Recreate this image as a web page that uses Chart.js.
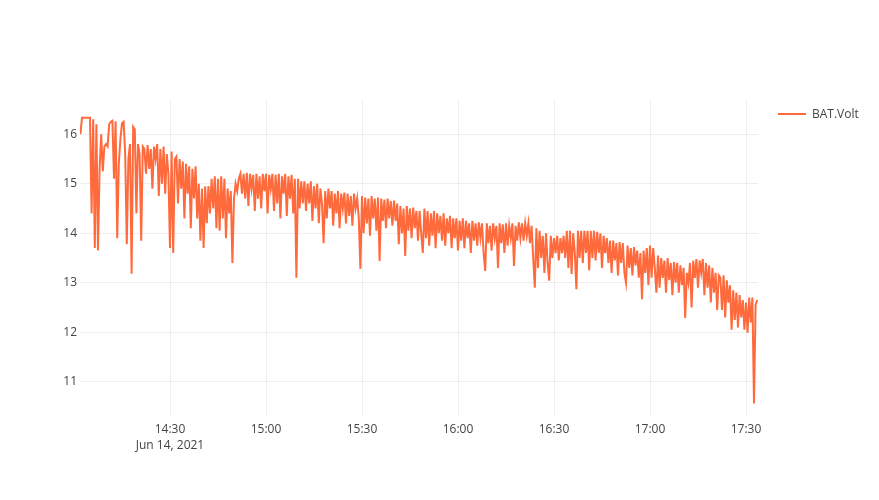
<!DOCTYPE html>
<html>
<head>
<meta charset="utf-8">
<script src="https://cdn.jsdelivr.net/npm/chart.js@4"></script>
<style>
  html, body { margin: 0; padding: 0; background: #fff; }
  #wrap { width: 879px; height: 500px; }
</style>
</head>
<body>
<div id="wrap"><canvas id="myChart"></canvas></div>
<script>
// Logger samples: one reading every 30 s, starting 14:02 (minutes after 14:00)
const sampleStartMin = 2;
const sampleStepMin = 0.5;

const volts = [
  16.0, 16.33, 16.33, 16.33, 16.33, 16.33, 16.33, 14.4, 16.3, 13.7, 16.2, 13.65, 15.3, 16.0, 15.25, 15.75, 15.8, 15.75, 16.2, 16.25,
  16.27, 15.1, 16.26, 13.9, 15.4, 15.9, 16.22, 16.25, 15.6, 13.78, 15.5, 15.8, 13.18, 16.15, 16.1, 14.4, 15.8, 15.6, 13.85, 15.75,
  15.7, 15.2, 15.78, 15.3, 15.7, 14.9, 15.75, 15.5, 15.8, 14.75, 15.7, 15.0, 15.75, 14.8, 15.6, 15.2, 13.7, 15.65, 13.6, 15.5,
  15.55, 14.6, 15.5, 14.9, 15.45, 14.3, 15.4, 14.8, 15.35, 14.1, 15.3, 14.7, 15.35, 14.3, 15.0, 13.85, 14.9, 13.7, 14.95, 14.2,
  14.95, 14.4, 15.1, 14.5, 15.15, 14.1, 15.1, 14.05, 15.15, 14.3, 15.1, 13.9, 14.9, 14.4, 14.85, 13.4, 14.7, 15.0, 14.85, 15.1,
  15.2, 14.8, 15.2, 14.7, 15.22, 14.55, 15.2, 14.9, 15.18, 14.45, 15.2, 14.7, 15.15, 14.5, 15.2, 14.85, 15.2, 14.4, 15.18, 14.9,
  15.2, 14.45, 15.18, 14.6, 15.2, 14.3, 15.15, 14.8, 15.2, 14.35, 15.15, 14.7, 15.18, 14.4, 15.1, 13.1, 15.1, 14.5, 15.05, 14.6,
  15.05, 14.45, 15.0, 14.6, 15.05, 14.25, 14.95, 14.5, 15.0, 14.2, 14.9, 14.6, 13.8, 14.85, 14.3, 14.9, 14.5, 14.85, 14.15, 14.8,
  14.4, 14.85, 14.1, 14.8, 14.5, 14.82, 14.2, 14.8, 14.35, 14.75, 14.15, 14.8, 14.5, 14.7, 14.3, 13.28, 14.75, 14.0, 14.72, 14.2,
  14.7, 13.95, 14.75, 14.3, 14.7, 14.05, 14.72, 13.44, 14.7, 14.25, 14.68, 14.1, 14.7, 14.3, 14.65, 14.15, 14.66, 14.25, 14.6, 13.78,
  14.55, 14.0, 14.5, 13.54, 14.55, 14.05, 14.5, 13.9, 14.52, 14.1, 14.45, 13.85, 14.45, 14.0, 13.6, 14.5, 13.9, 14.45, 13.75, 14.4,
  13.95, 14.45, 13.7, 14.4, 14.0, 14.35, 13.85, 14.4, 13.75, 14.3, 14.0, 14.35, 13.7, 14.3, 13.9, 14.3, 13.65, 14.25, 13.85, 14.3,
  13.7, 14.25, 13.9, 14.2, 13.6, 14.25, 13.85, 14.2, 13.75, 14.22, 13.9, 14.2, 13.6, 13.24, 14.2, 13.8, 14.15, 13.65, 14.2, 13.9,
  14.15, 13.3, 14.2, 13.8, 14.18, 13.6, 14.2, 13.75, 14.15, 13.9, 14.2, 13.34, 14.15, 13.85, 14.22, 13.9, 14.2, 13.85, 14.2, 13.95,
  14.2, 13.8, 14.15, 13.5, 12.9, 14.1, 13.3, 14.05, 13.5, 13.95, 13.2, 14.0, 13.4, 13.04, 13.95, 13.5, 13.9, 13.6, 13.95, 13.45,
  13.9, 13.6, 13.95, 13.5, 14.05, 13.3, 14.05, 13.18, 14.0, 13.6, 12.87, 14.05, 13.5, 14.05, 13.4, 14.05, 13.6, 14.05, 13.25, 14.05,
  13.5, 14.05, 13.45, 14.03, 13.6, 14.0, 13.3, 13.95, 13.6, 13.9, 13.4, 13.85, 13.2, 13.85, 13.45, 13.8, 13.15, 13.82, 13.4, 13.8,
  13.2, 13.0, 13.75, 13.3, 13.7, 13.15, 13.72, 13.35, 13.65, 13.1, 13.6, 12.67, 13.65, 13.2, 13.7, 12.95, 13.75, 13.1, 13.7, 13.3,
  12.8, 13.55, 12.9, 13.5, 13.1, 13.45, 12.8, 13.5, 13.05, 13.4, 12.75, 13.42, 13.0, 13.4, 12.8, 13.35, 12.95, 13.3, 12.29, 13.2,
  13.0, 13.4, 12.5, 13.45, 13.1, 13.48, 12.9, 13.45, 13.2, 13.48, 12.75, 13.4, 12.9, 13.35, 12.6, 13.3, 12.8, 13.2, 12.45, 13.15,
  13.1, 12.45, 13.15, 12.3, 13.05, 12.6, 12.95, 12.05, 12.85, 12.25, 12.8, 12.1, 12.75, 12.3, 12.65, 12.05, 12.6, 11.99, 12.7, 12.2,
  12.7, 10.56, 12.55, 12.65
];

const xTicks = [30, 60, 90, 120, 150, 180, 210];
const yTicks = [11, 12, 13, 14, 15, 16];
const dateLabel = "Jun 14, 2021";
const seriesName = "BAT.Volt";
const lineColor = "#ff6a3d";

const points = volts.map((v, i) => ({ x: sampleStartMin + i * sampleStepMin, y: v }));

function clock(min) {
  const h = 14 + Math.floor(min / 60);
  const m = Math.round(min % 60);
  return h + ":" + String(m).padStart(2, "0");
}

// Plotly-like legend on the right
const legendPlugin = {
  id: "sideLegend",
  afterDraw(chart) {
    const c = chart.ctx;
    c.save();
    c.strokeStyle = lineColor;
    c.lineWidth = 2;
    c.beginPath();
    c.moveTo(778, 114);
    c.lineTo(806, 114);
    c.stroke();
    c.fillStyle = "#444";
    c.font = "12px 'Open Sans'";
    c.textBaseline = "middle";
    c.fillText(seriesName, 812, 115);
    c.restore();
  }
};

const ctx = document.querySelector("#myChart").getContext("2d");

const myChart = new Chart(ctx, {
  type: "line",
  data: {
    datasets: [{
      label: seriesName,
      data: points,
      borderColor: lineColor,
      borderWidth: 2,
      pointRadius: 0,
      tension: 0,
      fill: false
    }]
  },
  options: {
    responsive: true,
    maintainAspectRatio: false,
    animation: false,
    layout: { padding: { left: 0, top: 100, right: 121, bottom: 0 } },
    plugins: {
      legend: { display: false },
      tooltip: { enabled: false }
    },
    scales: {
      x: {
        type: "linear",
        min: 1.875,
        max: 213.75,
        afterBuildTicks: (s) => { s.ticks = xTicks.map(v => ({ value: v })); },
        afterFit: (s) => { s.height = 85; },
        grid: { color: "#eeeeee", drawTicks: false },
        border: { display: false },
        ticks: {
          color: "#444",
          font: { family: "'Open Sans'", size: 12, lineHeight: 1.35 },
          padding: 6,
          maxRotation: 0,
          autoSkip: false,
          callback: (value) => value === xTicks[0] ? [clock(value), dateLabel] : clock(value)
        }
      },
      y: {
        min: 10.33,
        max: 16.69,
        afterBuildTicks: (s) => { s.ticks = yTicks.map(v => ({ value: v })); },
        afterFit: (s) => { s.width = 80; },
        grid: { color: "#eeeeee", drawTicks: false },
        border: { display: false },
        ticks: {
          color: "#444",
          font: { family: "'Open Sans'", size: 12 },
          padding: 3
        }
      }
    }
  },
  plugins: [legendPlugin]
});
</script>
</body>
</html>
